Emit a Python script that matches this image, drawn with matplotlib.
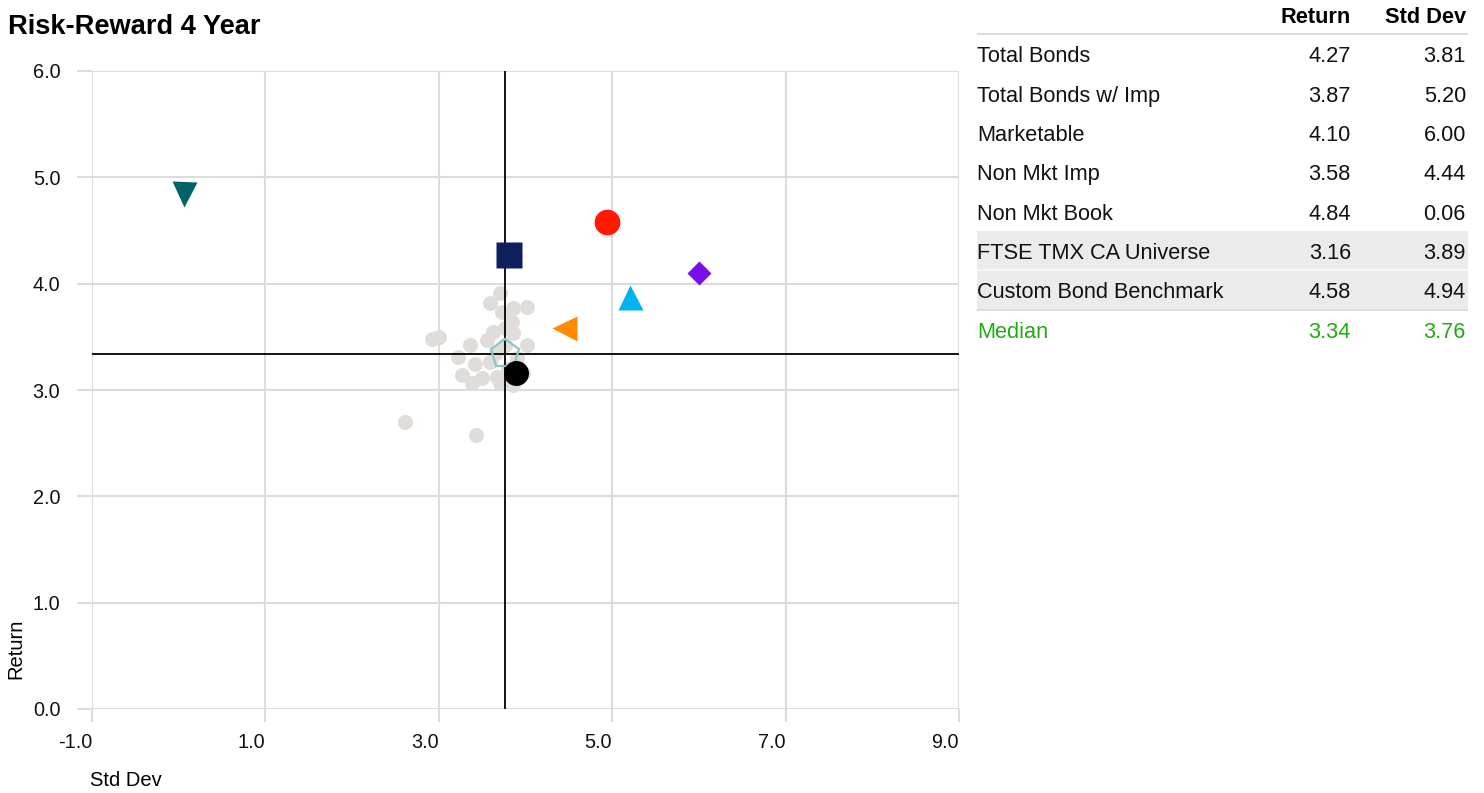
import matplotlib
matplotlib.use("Agg")
import matplotlib.pyplot as plt
from matplotlib.patches import Rectangle

plt.rcParams['font.family'] = ['Liberation Sans', 'DejaVu Sans']
plt.rcParams['axes.unicode_minus'] = False

W, H = 1484, 793

# portfolios: (name, return, std dev)
names = ["Total Bonds", "Total Bonds w/ Imp", "Marketable", "Non Mkt Imp",
         "Non Mkt Book", "FTSE TMX CA Universe", "Custom Bond Benchmark"]
returns = [4.27, 3.87, 4.10, 3.58, 4.84, 3.16, 4.58]
stddevs = [3.81, 5.20, 6.00, 4.44, 0.06, 3.89, 4.94]
median_ret, median_std = 3.34, 3.76

# peer universe
univ_std = [2.61, 3.43, 2.92, 3.00, 3.36, 3.22, 3.27, 3.38, 3.50, 3.42, 3.59,
            3.67, 3.71, 3.56, 3.63, 3.76, 3.86, 4.02, 3.97, 3.86, 3.71, 3.59,
            3.86, 4.02, 3.73, 3.84, 3.76, 3.66, 3.80, 3.90]
univ_ret = [2.70, 2.58, 3.48, 3.50, 3.42, 3.31, 3.14, 3.07, 3.11, 3.24, 3.26,
            3.12, 3.07, 3.47, 3.55, 3.58, 3.54, 3.42, 3.16, 3.05, 3.91, 3.82,
            3.77, 3.78, 3.73, 3.64, 3.42, 3.35, 3.20, 3.30]

styles = [
    dict(marker='s', ms=18.5, color='#0c1f5e'),
    dict(marker='^', ms=18, color='#00b4f0'),
    dict(marker='D', ms=12.5, color='#7b0ee8'),
    dict(marker='<', ms=18, color='#ff8c00'),
    dict(marker='v', ms=18, color='#006466'),
    dict(marker='o', ms=18, color='#000000'),
    dict(marker='o', ms=18.5, color='#ff1a00'),
]

fig = plt.figure(figsize=(W / 100, H / 100), dpi=100)
ax = fig.add_axes([92 / W, 1 - 709 / H, (959 - 92) / W, (709 - 71) / H])

grid_c = '#dcdcdc'
xt = [-1, 1, 3, 5, 7, 9]
ax.set_xlim(-1, 9)
ax.set_ylim(0, 6)
ax.set_xticks(xt)
ax.set_yticks(range(7))
ax.set_xticklabels([f"{v:.1f}" for v in xt], ha='right')
ax.set_yticklabels([f"{v:.1f}" for v in range(7)])
for s in ax.spines.values():
    s.set_visible(False)
ax.grid(True, color=grid_c, lw=1.5, zorder=0)
ax.set_axisbelow(True)
ax.tick_params(axis='x', length=9.4, width=1.5, color=grid_c, pad=8,
               labelsize=14.3, labelcolor='#111111')
ax.tick_params(axis='y', length=10.8, width=1.5, color=grid_c, pad=12,
               labelsize=14.3, labelcolor='#111111')

ax.plot(univ_std, univ_ret, 'o', ms=10.8, color='#e0dcda', mec='none', zorder=2)
ax.axvline(median_std, color='black', lw=1.3, zorder=3)
ax.axhline(median_ret, color='black', lw=1.3, zorder=3)
ax.plot([median_std], [median_ret], marker='p', ms=21, mfc='none',
        mec='#8fc4c4', mew=1.6, zorder=4)
for r, s, st in zip(returns, stddevs, styles):
    ax.plot([s], [r], ls='none', mec='none', zorder=5, **st)

fig.text(8 / W, 1 - 27 / H, "Risk-Reward 4 Year", fontsize=19.6, fontweight='bold',
         va='center', ha='left')
fig.text(90 / W, 1 - 781 / H, "Std Dev", fontsize=14.5, va='center', ha='left')
fig.text(16 / W, 1 - 649 / H, "Return", fontsize=14.5, va='center', ha='center',
         rotation=90)


def px(x, y):
    return x / W, 1 - y / H


# stats table
fs = 15.7
col_name, col_ret, col_std = 977, 1351, 1466
fig.text(*px(col_ret, 23), "Return", fontsize=fs, fontweight='bold', ha='right', va='baseline')
fig.text(*px(col_std, 23), "Std Dev", fontsize=fs, fontweight='bold', ha='right', va='baseline')
fig.add_artist(Rectangle(px(977, 35), (1468 - 977) / W, 2 / H, transform=fig.transFigure,
                         color='#dddddd', lw=0))
# shaded benchmark rows
fig.add_artist(Rectangle(px(977, 309), (1468 - 977) / W, (309 - 231) / H,
                         transform=fig.transFigure, color='#ebebeb', lw=0, zorder=0))
fig.add_artist(Rectangle(px(977, 271), (1468 - 977) / W, 1.5 / H,
                         transform=fig.transFigure, color='#f6f6f6', lw=0, zorder=0))
fig.add_artist(Rectangle(px(977, 311), (1468 - 977) / W, 2 / H,
                         transform=fig.transFigure, color='#dcdcdc', lw=0, zorder=0))

row_names = names + ["Median"]
row_ret = returns + [median_ret]
row_std = stddevs + [median_std]
for i, (n, r, s) in enumerate(zip(row_names, row_ret, row_std)):
    yb = 54.5 + 39.3 * i + 8
    c = '#22aa11' if n == "Median" else '#111111'
    fig.text(*px(col_name, yb), n, fontsize=fs, color=c, ha='left', va='baseline')
    fig.text(*px(col_ret, yb), f"{r:.2f}", fontsize=fs, color=c, ha='right', va='baseline')
    fig.text(*px(col_std, yb), f"{s:.2f}", fontsize=fs, color=c, ha='right', va='baseline')

fig.savefig("out.png", dpi=100)
